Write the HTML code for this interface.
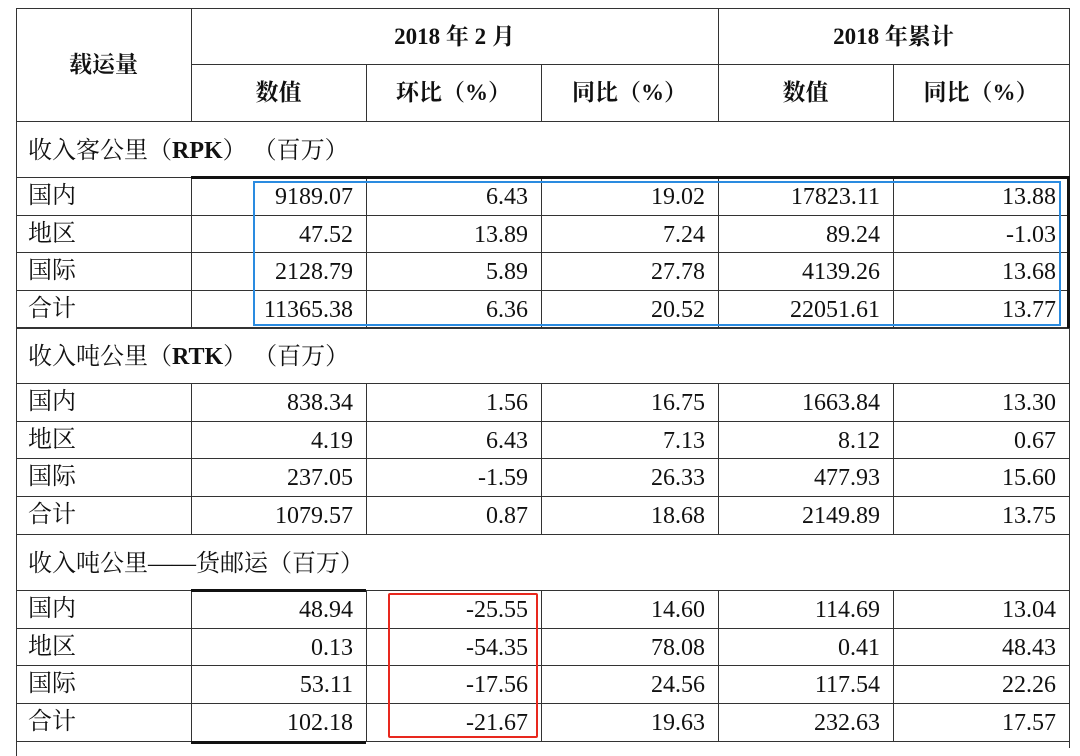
<!DOCTYPE html>
<html><head><meta charset="utf-8"><style>
body{margin:0;width:1080px;height:756px;background:#fff;overflow:hidden;position:relative;font-family:"Liberation Serif","Noto Serif CJK SC",serif;color:#111}
.l{position:absolute;background:#333}
.t{position:absolute;font-size:24px;line-height:26px;white-space:nowrap}
.b{font-weight:bold;font-size:23px}
</style></head><body>
<div id="root"></div>
<script>
const sections = ["收入客公里（<b>RPK</b>） （百万）","收入吨公里（<b>RTK</b>） （百万）","收入吨公里——货邮运（百万）"];
const rowLabels = ["国内","地区","国际","合计"];
const rpkValues = [["9189.07","6.43","19.02","17823.11","13.88"],["47.52","13.89","7.24","89.24","-1.03"],["2128.79","5.89","27.78","4139.26","13.68"],["11365.38","6.36","20.52","22051.61","13.77"]];
const rtkValues = [["838.34","1.56","16.75","1663.84","13.30"],["4.19","6.43","7.13","8.12","0.67"],["237.05","-1.59","26.33","477.93","15.60"],["1079.57","0.87","18.68","2149.89","13.75"]];
const cargoValues = [["48.94","-25.55","14.60","114.69","13.04"],["0.13","-54.35","78.08","0.41","48.43"],["53.11","-17.56","24.56","117.54","22.26"],["102.18","-21.67","19.63","232.63","17.57"]];
const allValues = [rpkValues, rtkValues, cargoValues];
const colX = [16,191,366,541,718,893,1069];
const secTop = [121,327,534];
const root = document.getElementById('root');
function line(x,y,w,h,c){const d=document.createElement('div');d.className='l';d.style.cssText=`left:${x}px;top:${y}px;width:${w}px;height:${h}px;`+(c?`background:${c}`:'');


root.appendChild(d);return d;}
function text(html,x,y,w,align,cls,name){const d=document.createElement('div');d.className='t '+(cls||'');d.innerHTML=html;d.style.cssText=`left:${x}px;top:${y}px;width:${w}px;text-align:${align}`;


root.appendChild(d);return d;}
line(16,8,1,748);line(1069,8,1,740);line(16,8,1054,1);
line(191,8,1,113);line(718,8,1,113);line(191,64,878,1);
line(366,64,1,57);line(541,64,1,57);line(893,64,1,57);
text('载运量',16,52,175,'center','b','header-cargo-volume');
text('2018 年 2 月',191,24,527,'center','b','header-feb-2018');
text('2018 年累计',718,24,351,'center','b','header-ytd-2018');
const sub=['数值','环比（%）','同比（%）','数值','同比（%）'];
sub.forEach((s,i)=>text(s,colX[i+1],80,colX[i+2]-colX[i+1],'center','b','subheader-'+i));
secTop.forEach((st,si)=>{
  line(16,st,1054,1);
  text(sections[si],28,st+17,600,'left','','section-title-'+si);
  let y=st+56;
  const vals=allValues[si];
  for(let r=0;r<4;r++){
    line(16,y,1054,1);
    const h=37.7;
    for(let c=1;c<6;c++) line(colX[c],y,1,h);
    text(rowLabels[r],28,y+6,150,'left','','row-label-'+si+'-'+r);
    for(let c=0;c<5;c++) text(vals[r][c],colX[c+1],y+7,colX[c+2]-colX[c+1]-13,'right','','value-'+si+'-'+r+'-'+c);
    y+=h;
  }
  line(16,Math.round(y),1054,1);
});
line(191,176,878,3,'#111');line(1067,176,3,152,'#111');
line(191,589,175,3,'#111');line(191,741,175,3,'#111');
const blue=document.createElement('div');blue.style.cssText='position:absolute;left:253px;top:181px;width:804px;height:141px;border:2.5px solid #2a8be0';


root.appendChild(blue);
const red=document.createElement('div');red.style.cssText='position:absolute;left:388px;top:593px;width:146px;height:141px;border:2.5px solid #e8281e;border-radius:2px';


root.appendChild(red);
</script>
</body></html>
